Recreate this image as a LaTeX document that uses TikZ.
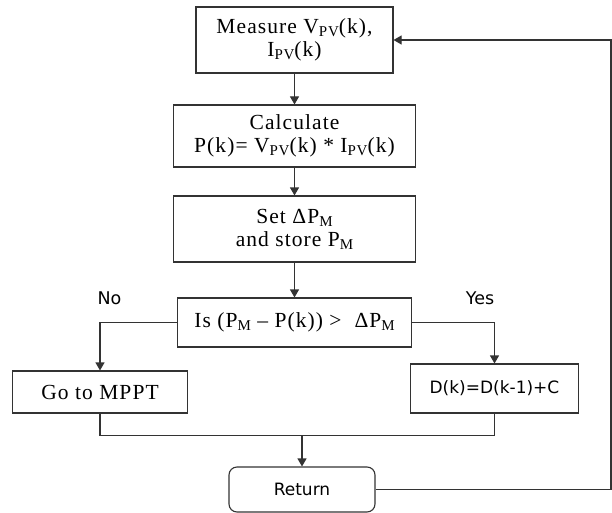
\documentclass[tikz,border=0pt]{standalone}
\usepackage{fontspec}
\setmainfont[LetterSpace=5]{Liberation Serif}
\newfontfamily\labelfont{DejaVu Sans}
\usetikzlibrary{positioning,arrows.meta}
\newcommand{\subs}[1]{\raisebox{-0.3ex}{\fontsize{15}{15}\selectfont #1}}

\begin{document}
\begin{tikzpicture}[x=1pt,y=-1pt,node distance=93pt,on grid,
   box/.style={draw=black!80,line width=1.1pt,align=center,inner sep=0pt,
               font=\fontsize{21.5}{23}\selectfont},
   sansbox/.style={box,font=\labelfont\fontsize{17}{20}\selectfont},
   tag/.style={font=\labelfont\fontsize{17.5}{20}\selectfont},
   wire/.style={draw=black!80,line width=1.1pt},
   line/.style={wire,-{Triangle[length=8pt,width=9pt]}}]
   \useasboundingbox (0,0) rectangle (612,513);
   \node[box,minimum width=197pt,minimum height=66pt] (meas) at (294.5,40)
        {Measure V\subs{PV}(k),\\ I\subs{PV}(k)};
   \node[box,minimum width=242pt,minimum height=62pt] (calc) [below=96pt of meas]
        {Calculate\\ P(k)= V\subs{PV}(k) * I\subs{PV}(k)};
   \node[box,minimum width=242pt,minimum height=66pt] (setp) [below=of calc]
        {Set ΔP\subs{M}\\ and store P\subs{M}};
   \node[box,minimum width=234pt,minimum height=49pt] (test) [below=93.5pt of setp]
        {Is (P\subs{M} – P(k)) >~ ΔP\subs{M}};
   \node[box,minimum width=175pt,minimum height=42pt] (mppt) [below left=69.5pt and 194.5pt of test]
        {Go to MPPT};
   \node[sansbox,minimum width=168pt,minimum height=49pt] (duty) [below right=66pt and 200pt of test]
        {D(k)=D(k-1)+C};
   \node[sansbox,rounded corners=8pt,minimum width=146pt,minimum height=45pt] (ret) at (302,489.5)
        {Return};
   \node[tag] (no) at (109.5,298) {No};
   \node[tag] (yes) at (480,298) {Yes};
   \path (ret.north) ++(0,-31) coordinate (join);
   \coordinate (back) at (611,40);
   \draw[line] (meas) -- (calc);
   \draw[line] (calc) -- (setp);
   \draw[line] (setp) -- (test);
   \draw[line] (test.west) -| (mppt.north);
   \draw[line] (test.east) -| (duty.north);
   \draw[wire] (mppt.south) |- (join) -| (duty.south);
   \draw[line] (join) -- (ret.north);
   \draw[line] (ret.east) -| (back) -- (meas.east);
\end{tikzpicture}
\end{document}
